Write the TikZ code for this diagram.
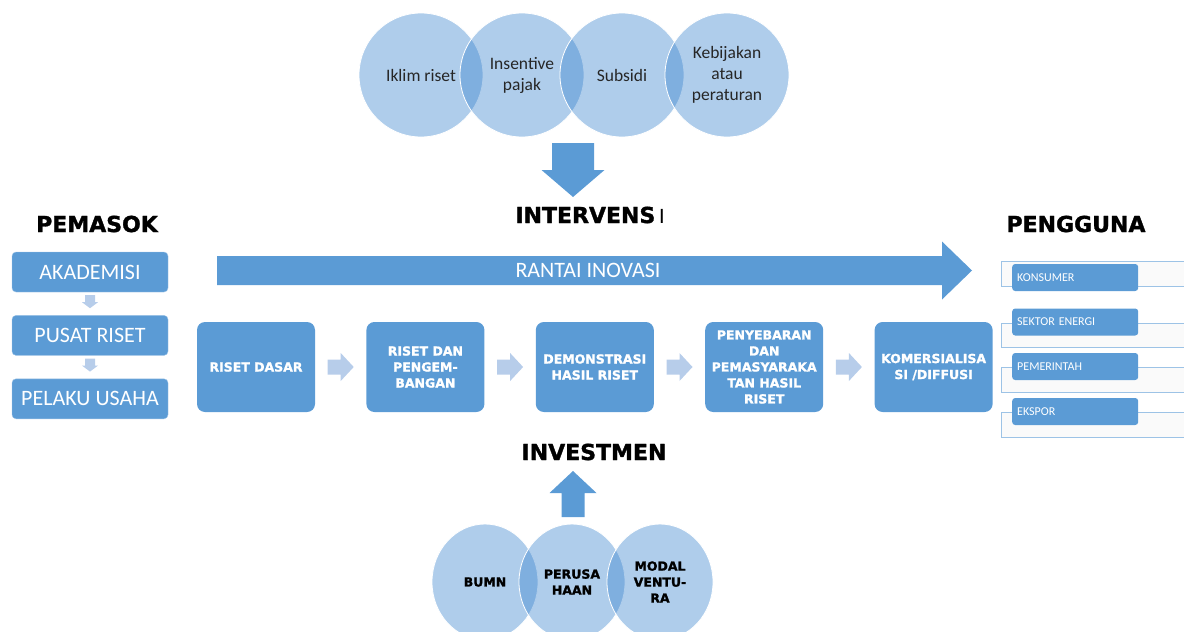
\documentclass[tikz,border=0pt]{standalone}
\usepackage{fontspec}
\setmainfont{Carlito}
\newfontfamily\heavysans{DejaVu Sans}[BoldFeatures={FakeBold=1.5}]
\usetikzlibrary{calc,positioning,shapes.geometric}
\definecolor{boxblue}{RGB}{91,155,213}
\definecolor{paleblue}{RGB}{183,205,234}
\definecolor{ringblue}{RGB}{55,130,205}
\definecolor{edgeblue}{RGB}{157,195,230}
\definecolor{shadegray}{RGB}{250,250,250}
\newcommand{\headfont}{\heavysans\bfseries\fontsize{22}{26}\selectfont}
\newcommand{\stepfont}{\heavysans\bfseries\fontsize{12.5}{16}\selectfont}
\newcommand{\blockarrow}[7]{
	\begin{scope}[shift={(#1)}, rotate=#2]
	\fill[#7] (-#3/2,-#4) -- (#3/2-#6,-#4) -- (#3/2-#6,-#5) -- (#3/2,0)
		-- (#3/2-#6,#5) -- (#3/2-#6,#4) -- (-#3/2,#4) -- cycle;
	\end{scope}
}

\begin{document}
\begin{tikzpicture}[x=1pt,y=-1pt,
	supbox/.style={rectangle, rounded corners=4pt, fill=boxblue, draw=edgeblue, line width=0.4pt,
		minimum width=156pt, minimum height=40pt, text=white, font=\fontsize{22}{26}\selectfont},
	stepbox/.style={rectangle, rounded corners=8pt, fill=boxblue, minimum width=118pt,
		minimum height=90pt, inner sep=2pt, text=white, align=center, font=\stepfont},
	userbox/.style={rectangle, rounded corners=3pt, fill=boxblue, anchor=west, text width=116pt,
		minimum height=27pt, inner xsep=5pt, align=left, text=white, font=\fontsize{12}{14}\selectfont},
	usershade/.style={fill=shadegray, draw=edgeblue, line width=0.8pt},
	ring/.style={circle, minimum size=124pt, inner sep=0pt, fill=ringblue, fill opacity=0.4,
		text opacity=1, draw=white, line width=0.8pt, align=center, text=black!85,
		font=\fontsize{17.5}{21}\selectfont},
	fund/.style={ellipse, minimum width=106pt, minimum height=116pt, inner sep=0pt, fill=ringblue,
		fill opacity=0.4, text opacity=1, draw=white, line width=0.8pt, align=center, text=black,
		font=\stepfont},
	title/.style={font=\headfont, text=black}]
	\path[use as bounding box, clip] (0,0) rectangle (1184,632);

	% intervensi
	\node[ring] (iklim) at (421,75) {Iklim riset};
	\node[ring] (insentif) at (522,75) {Insentive\\pajak};
	\node[ring] (subsidi) at (622,75) {Subsidi};
	\node[ring] (kebijakan) at (727,75) {Kebijakan\\atau\\peraturan};
	\coordinate (downarrow) at (573,170);
	\blockarrow{downarrow}{-90}{54}{21}{31.5}{27}{boxblue}
	\node[title] (intervensi) at (590,215) {INTERVENS\,{\normalfont\mdseries I}};

	% pemasok
	\node[title] (pemasok) at (97,224) {PEMASOK};
	\node[supbox] (akademisi) at (90,272) {AKADEMISI};
	\node[supbox, below=23pt of akademisi] (pusat) {PUSAT RISET};
	\node[supbox, below=23pt of pusat] (pelaku) {PELAKU USAHA};
	\foreach \a/\b in {akademisi/pusat, pusat/pelaku} {
		\coordinate (mid) at ($(\a.south)!0.5!(\b.north)+(0,-2)$);
		\blockarrow{mid}{-90}{13}{5}{8}{6}{paleblue}
	}

	% rantai inovasi
	\coordinate (rantaimid) at (594.5,270.5);
	\blockarrow{rantaimid}{0}{755}{14.5}{29}{30}{boxblue}
	\node[text=white, font=\fontsize{22}{26}\selectfont] (rantai) at (588,270.5) {RANTAI INOVASI};

	\node[stepbox] (riset) at (256,367) {RISET DASAR};
	\node[stepbox, right=51pt of riset] (litbang) {RISET DAN\\PENGEM-\\BANGAN};
	\node[stepbox, right=51pt of litbang] (demo) {DEMONSTRASI\\HASIL RISET};
	\node[stepbox, right=51pt of demo] (sebar) {PENYEBARAN\\DAN\\PEMASYARAKA\\TAN HASIL\\RISET};
	\node[stepbox, right=51pt of sebar] (komersial) {KOMERSIALISA\\SI /DIFFUSI};
	\foreach \a/\b in {riset/litbang, litbang/demo, demo/sebar, sebar/komersial} {
		\coordinate (mid) at ($(\a.east)!0.5!(\b.west)$);
		\blockarrow{mid}{0}{26}{7.5}{14}{13}{paleblue}
	}

	% pengguna
	\node[title] (pengguna) at (1076,224) {PENGGUNA};
	\draw[usershade] (1190,261) -- (1001,261) -- (1001,286) -- (1190,286);
	\draw[usershade] (1190,323) -- (1001,323) -- (1001,347) -- (1190,347);
	\draw[usershade] (1190,367) -- (1001,367) -- (1001,392) -- (1190,392);
	\draw[usershade] (1190,412) -- (1001,412) -- (1001,437) -- (1190,437);
	\node[userbox] (konsumer) at (1012,277.5) {KONSUMER};
	\node[userbox] (energi) at (1012,322) {SEKTOR ENERGI};
	\node[userbox] (pemerintah) at (1012,366.5) {PEMERINTAH};
	\node[userbox] (ekspor) at (1012,411.5) {EKSPOR};

	% investmen
	\node[title] (investmen) at (594,452) {INVESTMEN};
	\coordinate (uparrow) at (573,494);
	\blockarrow{uparrow}{90}{46}{11.5}{23.5}{22}{boxblue}
	\node[fund] (bumn) at (485,582) {BUMN};
	\node[fund] (perusahaan) at (572,582) {PERUSA\\HAAN};
	\node[fund] (ventura) at (660,582) {MODAL\\VENTU-\\RA};
\end{tikzpicture}
\end{document}
